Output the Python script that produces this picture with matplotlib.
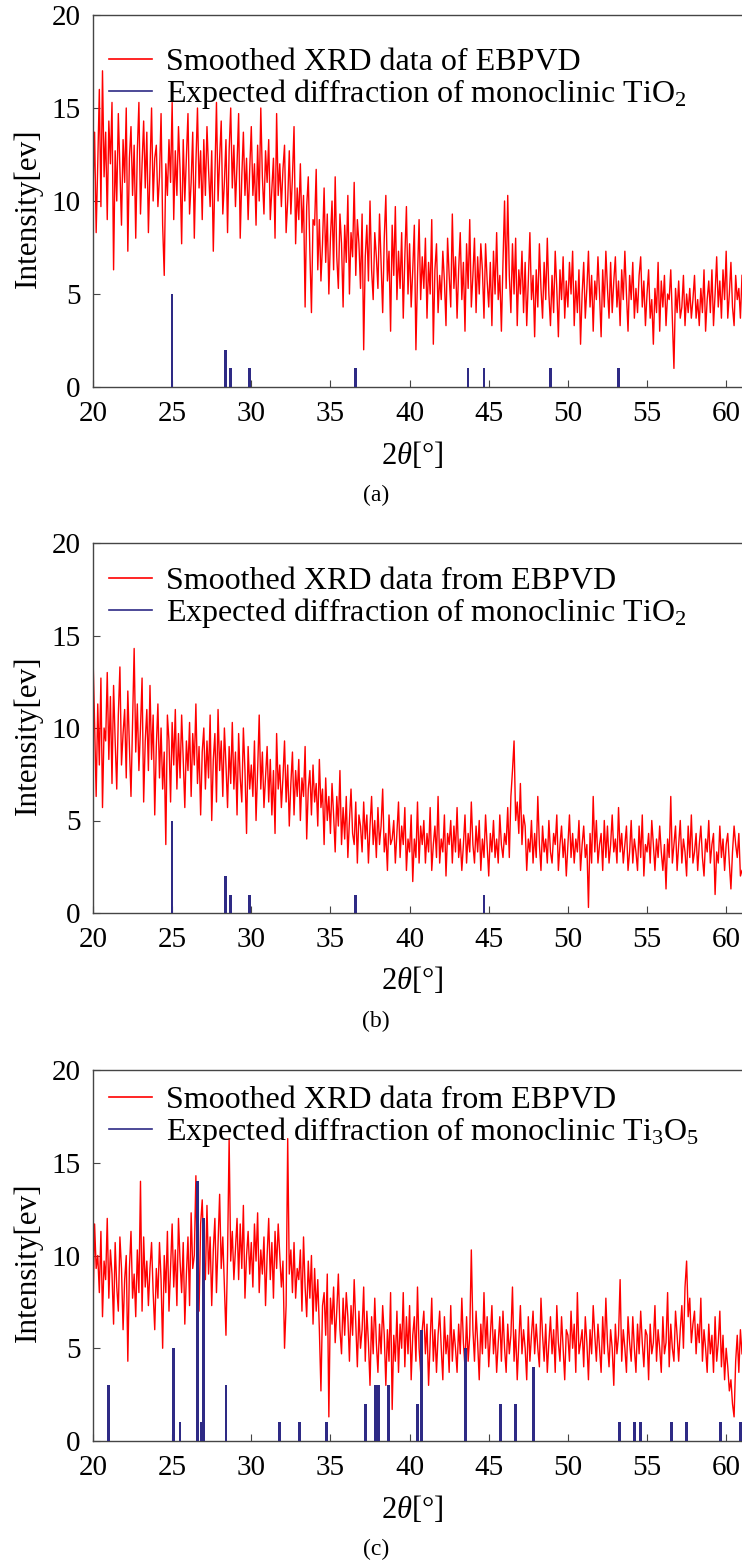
import matplotlib
matplotlib.use('Agg')
import matplotlib.pyplot as plt
from matplotlib.lines import Line2D
import numpy as np

plt.rcParams['font.family'] = ['Liberation Serif', 'DejaVu Serif']
plt.rcParams['mathtext.fontset'] = 'custom'
plt.rcParams['mathtext.rm'] = 'Liberation Serif'
plt.rcParams['mathtext.it'] = 'Liberation Serif:italic'

# smoothed XRD intensities, one value every 0.1 degree starting at 20
xrd_a = [
    10.5, 13.7, 8.3, 12.0, 16.0, 9.7, 17.0, 11.3, 13.7, 9.0,
    14.3, 12.0, 15.3, 6.3, 12.7, 10.0, 14.7, 11.7, 8.7, 13.3,
    11.0, 15.0, 7.3, 12.3, 14.0, 10.3, 13.0, 8.0, 12.7, 15.3,
    9.3, 12.0, 14.3, 10.7, 13.7, 8.3, 11.7, 15.0, 10.0, 12.3,
    13.0, 9.7, 11.3, 14.7, 8.7, 6.0, 12.0, 10.3, 13.3, 11.0,
    15.3, 9.0, 12.7, 10.3, 14.0, 11.7, 7.7, 13.3, 10.0, 12.3,
    14.7, 9.3, 11.0, 13.7, 8.0, 12.0, 15.0, 10.7, 12.7, 9.0,
    13.3, 10.3, 14.0, 11.7, 9.7, 12.7, 7.3, 11.3, 15.3, 10.0,
    12.3, 14.3, 9.3, 11.0, 13.3, 8.3, 12.7, 15.0, 10.7, 13.0,
    9.7, 12.0, 14.7, 8.0, 11.3, 13.7, 10.3, 12.3, 9.0, 11.7,
    14.0, 10.3, 12.0, 8.7, 13.0, 10.0, 15.0, 11.3, 9.3, 12.7,
    11.0, 13.3, 9.0, 10.7, 12.3, 8.0, 14.7, 10.3, 12.0, 9.7,
    11.7, 13.0, 8.3, 10.0, 12.7, 9.3, 11.3, 14.0, 7.7, 10.7,
    9.0, 12.0, 8.3, 10.3, 4.3, 9.7, 11.3, 7.3, 4.0, 9.0,
    8.7, 11.7, 6.3, 9.0, 5.7, 7.7, 10.7, 6.7, 9.3, 5.0,
    8.0, 10.0, 6.3, 11.3, 7.0, 5.3, 9.3, 7.7, 4.3, 8.7,
    6.7, 10.3, 5.0, 8.3, 7.0, 11.0, 6.0, 9.0, 7.7, 5.3,
    9.3, 2.0, 7.0, 8.7, 5.7, 10.0, 6.3, 4.7, 8.3, 7.0,
    5.3, 9.3, 6.7, 4.0, 8.0, 10.3, 5.7, 7.3, 3.0, 8.7,
    6.0, 9.7, 4.7, 7.3, 5.3, 8.3, 3.7, 7.0, 9.7, 5.0,
    7.7, 4.3, 6.3, 8.7, 2.0, 6.0, 9.0, 4.7, 7.0, 5.3,
    8.0, 3.7, 6.7, 5.0, 9.0, 2.3, 6.3, 7.7, 4.0, 6.0,
    4.7, 7.3, 5.7, 3.3, 8.0, 6.0, 4.3, 9.3, 5.3, 7.0,
    3.7, 6.3, 8.3, 4.7, 6.7, 3.0, 7.7, 5.3, 9.0, 4.3,
    6.0, 8.0, 4.0, 7.0, 5.0, 7.7, 6.3, 3.7, 7.7, 5.7,
    4.3, 6.7, 3.3, 7.3, 5.0, 8.3, 4.7, 6.0, 3.0, 6.7,
    10.0, 5.3, 10.3, 6.0, 4.0, 7.7, 5.0, 8.0, 3.3, 6.3,
    5.0, 7.3, 4.0, 6.7, 3.3, 5.7, 8.3, 4.7, 6.0, 2.7,
    6.3, 4.3, 7.7, 5.3, 3.7, 6.7, 4.7, 8.0, 5.0, 3.3,
    6.0, 4.0, 7.3, 5.3, 2.7, 6.3, 4.7, 7.0, 3.7, 5.7,
    4.3, 6.7, 5.0, 7.3, 3.3, 5.7, 4.0, 6.3, 2.3, 5.0,
    6.7, 3.7, 5.3, 7.3, 4.3, 6.0, 3.0, 5.7, 4.7, 7.0,
    5.0, 2.7, 6.3, 4.3, 7.3, 5.3, 3.7, 6.7, 4.0, 5.7,
    7.0, 4.3, 5.7, 3.3, 6.3, 4.7, 7.3, 5.0, 3.0, 6.0,
    4.7, 6.7, 3.7, 5.3, 4.0, 6.0, 7.0, 4.3, 5.7, 3.3,
    5.0, 6.3, 3.7, 4.7, 2.3, 5.3, 4.0, 6.7, 3.0, 5.7,
    4.3, 6.0, 3.3, 5.0, 4.7, 6.3, 3.7, 1.0, 5.3, 4.0,
    5.7, 3.7, 4.3, 6.0, 3.3, 5.0, 4.0, 5.3, 3.7, 4.7,
    6.0, 3.7, 4.7, 3.3, 5.3, 4.0, 6.3, 3.0, 4.7, 5.7,
    4.0, 6.3, 3.3, 5.0, 7.0, 4.3, 5.7, 3.7, 6.3, 4.7,
    7.3, 3.7, 5.0, 6.7, 4.3, 3.3, 6.0, 4.7, 5.3, 3.7,
    6.0,
]

xrd_b = [
    13.9, 10.3, 6.3, 11.3, 8.0, 12.7, 5.7, 10.0, 9.3, 13.0,
    8.3, 11.7, 7.0, 12.3, 9.3, 6.7, 10.7, 13.3, 8.0, 9.7,
    11.0, 7.3, 12.0, 9.0, 6.3, 10.3, 14.3, 8.7, 11.3, 7.7,
    10.0, 12.7, 6.0, 9.3, 11.0, 7.7, 12.3, 8.3, 10.7, 5.3,
    9.0, 11.3, 7.3, 10.0, 6.7, 8.7, 3.7, 10.7, 9.3, 6.0,
    10.3, 8.0, 11.0, 6.7, 9.7, 7.3, 10.7, 8.3, 5.7, 9.3,
    7.7, 10.3, 6.3, 9.7, 8.0, 11.3, 7.0, 9.0, 5.3, 8.7,
    10.0, 6.7, 9.3, 7.3, 10.7, 5.0, 8.3, 9.7, 6.0, 11.0,
    7.7, 9.3, 6.3, 10.0, 8.0, 5.7, 9.0, 7.0, 10.3, 6.7,
    8.7, 5.3, 9.7, 7.3, 6.0, 10.0, 7.7, 4.3, 9.0, 6.7,
    8.0, 6.3, 9.3, 5.0, 7.7, 10.7, 6.7, 8.7, 5.7, 7.3,
    9.0, 6.0, 8.3, 5.3, 7.7, 4.3, 9.7, 6.7, 8.0, 5.7,
    7.3, 9.3, 6.0, 8.0, 4.7, 7.0, 8.7, 5.3, 7.7, 6.3,
    8.3, 5.0, 7.3, 6.3, 9.0, 4.0, 6.7, 7.7, 5.3, 8.0,
    6.0, 7.0, 4.7, 8.3, 5.7, 6.7, 3.7, 7.3, 5.0, 6.3,
    4.3, 7.0, 5.3, 3.3, 6.3, 4.7, 7.7, 3.7, 5.7, 4.0,
    6.3, 3.0, 5.0, 6.7, 4.3, 3.7, 6.0, 2.7, 5.3, 4.7,
    3.3, 6.0, 4.0, 5.3, 2.7, 4.7, 6.3, 3.7, 5.0, 3.0,
    5.7, 3.7, 4.7, 6.7, 3.3, 4.3, 2.3, 5.3, 3.7, 4.0,
    5.0, 2.7, 4.3, 6.0, 3.0, 4.7, 3.7, 5.7, 2.3, 4.0,
    3.3, 5.3, 1.7, 4.0, 3.0, 6.0, 2.7, 4.7, 3.7, 5.0,
    2.7, 4.3, 3.3, 5.7, 2.3, 3.7, 4.7, 3.0, 6.3, 2.7,
    4.0, 3.3, 5.3, 2.0, 4.3, 3.7, 5.0, 2.7, 4.7, 3.3,
    5.7, 3.0, 4.0, 2.3, 3.7, 5.3, 2.7, 4.3, 3.3, 6.0,
    3.7, 2.7, 4.7, 3.3, 5.0, 2.3, 4.0, 3.0, 5.3, 3.7,
    2.0, 4.3, 3.3, 5.0, 3.0, 4.0, 2.7, 5.3, 3.7, 3.0,
    4.3, 3.7, 5.7, 3.0, 6.3, 7.7, 9.3, 5.0, 6.0, 4.3,
    7.0, 3.7, 5.3, 4.7, 2.3, 4.0, 3.3, 5.0, 2.7, 4.3,
    3.0, 6.3, 3.7, 2.3, 4.7, 3.3, 4.0, 2.7, 5.0, 3.3,
    2.7, 4.3, 3.7, 5.3, 2.3, 3.7, 4.7, 3.0, 4.0, 2.0,
    3.7, 5.3, 3.0, 4.3, 2.7, 4.0, 3.3, 5.0, 2.3, 3.7,
    4.7, 3.0, 3.7, 0.3, 4.3, 2.7, 6.3, 3.3, 5.0, 2.7,
    3.7, 4.3, 2.3, 5.0, 3.0, 4.7, 2.7, 3.7, 5.3, 3.3,
    4.0, 2.7, 5.7, 3.3, 4.3, 2.7, 3.7, 4.7, 2.3, 3.3,
    5.0, 2.7, 4.0, 3.3, 2.3, 4.7, 3.0, 5.3, 2.0, 3.7,
    3.3, 4.3, 2.7, 5.0, 3.7, 2.3, 4.0, 3.0, 4.7, 3.3,
    2.3, 3.7, 1.3, 4.0, 3.0, 6.3, 2.7, 3.7, 4.7, 2.3,
    3.7, 5.0, 2.7, 4.0, 3.3, 2.0, 4.7, 3.0, 5.3, 2.7,
    3.3, 4.3, 2.3, 3.7, 4.7, 3.0, 2.0, 4.0, 3.3, 5.0,
    2.7, 3.7, 4.3, 1.0, 3.3, 2.7, 4.7, 3.0, 4.0, 2.3,
    3.7, 4.3, 2.7, 1.3, 3.3, 4.7, 3.7, 3.0, 4.3, 2.0,
    2.3,
]

xrd_c = [
    7.0, 11.7, 9.3, 10.0, 8.0, 11.3, 6.7, 9.7, 8.7, 12.0,
    7.7, 10.3, 9.0, 6.3, 10.7, 8.3, 7.0, 11.0, 9.3, 6.0,
    8.7, 10.0, 4.3, 9.3, 11.3, 7.7, 9.0, 6.7, 10.3, 8.0,
    14.0, 7.0, 11.0, 8.3, 9.7, 7.3, 9.3, 10.7, 8.0, 6.0,
    9.3, 7.7, 10.7, 8.7, 5.0, 10.0, 8.0, 11.3, 7.0, 9.3,
    11.7, 8.3, 10.3, 7.3, 12.0, 9.7, 8.0, 10.7, 6.3, 9.0,
    11.0, 7.3, 12.3, 9.3, 10.0, 14.3, 8.3, 7.0, 11.7, 13.0,
    10.0, 8.7, 12.7, 9.0, 11.0, 7.3, 10.3, 12.0, 8.0, 10.7,
    13.3, 9.3, 11.0, 8.3, 5.7, 10.0, 16.3, 9.7, 11.3, 8.7,
    10.3, 12.0, 8.7, 11.7, 9.3, 12.7, 7.7, 10.0, 11.3, 9.0,
    10.7, 8.3, 11.7, 9.7, 12.3, 8.0, 10.3, 9.0, 11.0, 7.3,
    10.0, 12.0, 8.7, 10.7, 7.7, 11.3, 9.3, 11.7, 10.0, 8.3,
    9.7, 5.0, 7.3, 16.3, 9.0, 10.3, 8.0, 10.7, 7.7, 9.3,
    8.7, 10.3, 7.0, 11.0, 8.3, 6.7, 9.7, 7.7, 10.0, 6.3,
    9.3, 7.0, 8.7, 6.0, 2.7, 7.3, 8.0, 5.7, 9.0, 1.3,
    7.7, 6.3, 8.3, 5.3, 7.0, 9.0, 6.0, 4.7, 7.7, 5.7,
    8.0, 6.7, 4.3, 7.3, 5.7, 8.7, 6.3, 4.0, 7.0, 5.0,
    6.0, 8.3, 4.3, 7.0, 5.3, 3.0, 6.7, 4.7, 7.7, 5.3,
    3.7, 6.3, 4.7, 7.3, 5.7, 3.0, 6.0, 4.3, 8.0, 1.7,
    5.7, 4.3, 7.0, 3.7, 6.3, 5.0, 8.0, 4.0, 6.7, 4.7,
    7.3, 3.3, 5.7, 6.7, 4.3, 8.3, 5.0, 3.7, 6.0, 7.0,
    4.7, 6.3, 3.0, 5.3, 7.7, 4.3, 6.0, 3.7, 5.7, 7.0,
    5.0, 3.3, 6.7, 4.7, 5.7, 3.7, 7.3, 4.3, 6.0, 5.0,
    3.7, 6.3, 4.7, 7.7, 5.3, 4.0, 6.7, 4.3, 5.7, 10.3,
    6.0, 4.3, 7.0, 5.3, 3.3, 6.3, 4.7, 8.0, 5.0, 6.7,
    4.0, 5.7, 7.3, 4.7, 6.0, 3.7, 5.3, 6.7, 4.3, 7.0,
    5.0, 3.7, 6.3, 4.7, 5.7, 8.3, 4.3, 6.0, 3.3, 5.3,
    7.3, 4.7, 6.0, 5.0, 3.3, 6.7, 4.3, 5.7, 7.0, 4.7,
    6.3, 5.0, 4.0, 7.7, 5.7, 4.3, 6.3, 3.7, 5.3, 6.7,
    4.7, 6.0, 3.7, 7.3, 5.3, 4.3, 6.7, 5.0, 3.3, 6.0,
    5.7, 4.3, 7.0, 5.0, 6.3, 3.7, 8.0, 4.7, 5.3, 6.0,
    4.0, 6.7, 5.3, 3.3, 6.0, 4.7, 7.3, 5.7, 4.3, 6.3,
    5.0, 3.7, 6.7, 4.7, 7.7, 5.3, 4.0, 6.0, 5.0, 3.0,
    6.3, 4.7, 5.7, 8.7, 4.3, 6.0, 5.0, 3.7, 6.7, 5.3,
    4.3, 6.7, 5.0, 3.7, 6.3, 4.7, 7.0, 5.3, 4.0, 6.0,
    5.7, 3.3, 6.3, 4.7, 5.3, 7.3, 4.3, 6.0, 5.0, 3.7,
    6.7, 4.7, 5.3, 8.0, 4.0, 6.3, 5.0, 4.3, 7.0, 5.7,
    4.3, 6.0, 7.3, 5.0, 8.3, 9.7, 6.7, 7.7, 5.3, 6.3,
    7.0, 4.7, 6.3, 5.3, 7.7, 4.3, 6.0, 5.0, 3.7, 6.3,
    4.7, 5.7, 3.7, 6.7, 4.3, 5.3, 7.0, 4.0, 5.7, 3.3,
    5.0, 4.0, 2.7, 3.3, 2.0, 1.3, 4.3, 5.7, 3.7, 6.0,
    4.7,
]

# expected diffraction lines (position in 2theta, relative intensity)
tio2_pos_a = [25.0, 28.35, 28.7, 29.9, 36.6, 43.7, 44.7, 48.9, 53.2]
tio2_int_a = [5, 2, 1, 1, 1, 1, 1, 1, 1]
tio2_pos_b = [25.0, 28.35, 28.7, 29.9, 36.6, 44.7]
tio2_int_b = [5, 2, 1, 1, 1, 1]
ti3o5_pos = [21.0, 25.1, 25.5, 26.6, 26.85, 27.0, 28.4, 31.8, 33.05, 34.75,
             37.2, 37.85, 38.05, 38.65, 40.5, 40.75, 43.55, 45.75, 46.7, 47.85,
             53.25, 54.2, 54.6, 56.55, 57.5, 59.65, 60.9]
ti3o5_int = [3, 5, 1, 14, 1, 12, 3, 1, 1, 1,
             2, 3, 3, 3, 2, 6, 5, 2, 2, 4,
             1, 1, 1, 1, 1, 1, 1]

panels = [
    (xrd_a, tio2_pos_a, tio2_int_a, 'Smoothed XRD data of EBPVD',
     'Expected diffraction of monoclinic TiO$_2$', '(a)', 15, 387, 45),
    (xrd_b, tio2_pos_b, tio2_int_b, 'Smoothed XRD data from EBPVD',
     'Expected diffraction of monoclinic TiO$_2$', '(b)', 543, 913, 36),
    (xrd_c, ti3o5_pos, ti3o5_int, 'Smoothed XRD data from EBPVD',
     'Expected diffraction of monoclinic Ti$_3$O$_5$', '(c)', 1070, 1441, 28),
]

W, H = 742, 1561
fig = plt.figure(figsize=(W / 100, H / 100), dpi=100)
edge = '#454545'
navy = '#2e2a85'

for data, pos, inten, lab1, lab2, cap, top, bot, leg_y in panels:
    ax = fig.add_axes([93 / W, 1 - bot / H, (W - 93) / W, (bot - top) / H])
    x = 20 + 0.1 * np.arange(len(data))
    ax.plot(x, data, color='#ff0000', lw=1.0, zorder=2)
    ax.bar(pos, inten, width=0.17, color=navy, zorder=3)
    ax.set_xlim(20, 61.0)
    ax.set_ylim(0, 20)
    ax.set_xticks(range(20, 61, 5))
    ax.set_yticks(range(0, 21, 5))
    ax.spines['right'].set_visible(False)
    for s in ['left', 'bottom', 'top']:
        ax.spines[s].set_color(edge)
        ax.spines[s].set_linewidth(1.0)
    ax.tick_params(axis='both', direction='in', length=5, width=0.8,
                   color=edge, labelsize=21)
    ax.tick_params(axis='x', pad=10)
    ax.tick_params(axis='y', pad=9)

    handles = [Line2D([], [], color='#ff0000', lw=1.2),
               Line2D([], [], color=navy, lw=1.2)]
    ax.legend(handles, [lab1, lab2], loc='upper left', frameon=False,
              fontsize=23, borderpad=0, borderaxespad=0, handlelength=1.35,
              handletextpad=0.45, labelspacing=0.0,
              bbox_to_anchor=(16 / (W - 93), 1 - (leg_y - 12) / (bot - top)))

    fig.text(412 / W, 1 - (bot + 68) / H, r'$2\theta$[°]', fontsize=22,
             ha='center', va='center')
    fig.text(28 / W, 1 - ((top + bot) / 2 + 7) / H, 'Intensity[ev]',
             fontsize=22.5, rotation=90, ha='center', va='center')
    fig.text(376 / W, 1 - (bot + 108) / H, cap, fontsize=17,
             ha='center', va='center')

fig.savefig('out.png', dpi=100)
